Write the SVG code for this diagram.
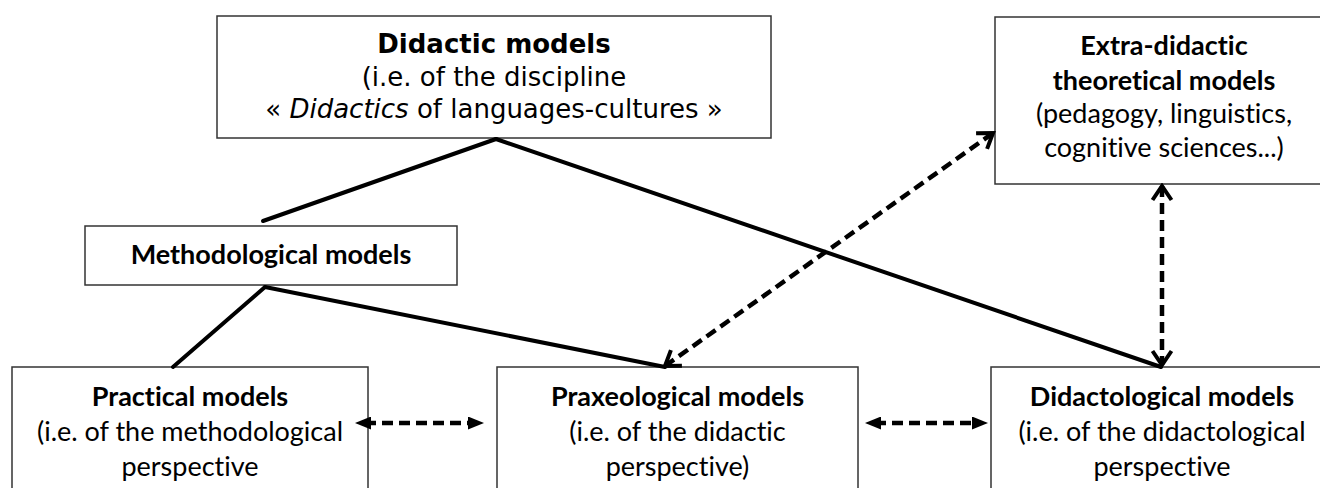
<svg xmlns="http://www.w3.org/2000/svg" width="1320" height="488" viewBox="0 0 1320 488">
  <style>
    .box { fill: #ffffff; stroke: #333333; stroke-width: 1.5; }
    .t { font-family: Lato, "Liberation Sans", sans-serif; font-size: 27px; fill: #000000; text-anchor: middle; font-variant-ligatures: none; }
    .tv { font-family: "DejaVu Sans", Verdana, sans-serif; font-size: 26px; fill: #000000; text-anchor: middle; }
    .b { font-weight: bold; }
    .solid { stroke: #000000; stroke-width: 4; fill: none; stroke-linecap: round; }
    .dash { stroke: #000000; stroke-width: 4.5; fill: none; stroke-dasharray: 11 6; }
  </style>
  <defs>
    <!-- filled triangular head, tip sits 10 units past the line end -->
    <marker id="tri" viewBox="0 0 16 13" refX="6" refY="6.5" markerWidth="16" markerHeight="13" markerUnits="userSpaceOnUse" orient="auto-start-reverse">
      <path d="M0,0 L16,6.5 L0,13 z" fill="#000000"/>
    </marker>
    <!-- open V head, tip at the line end -->
    <marker id="vee" viewBox="0 0 20 24" refX="17" refY="12" markerWidth="20" markerHeight="24" markerUnits="userSpaceOnUse" orient="auto-start-reverse">
      <path d="M3,2.5 L17,12 L3,21.5" fill="none" stroke="#000000" stroke-width="4" stroke-linejoin="miter"/>
    </marker>
  </defs>

  <rect width="1320" height="488" fill="#ffffff"/>

  <g id="didactic">
    <rect class="box" x="217" y="16" width="554" height="122"/>
    <text class="tv b" x="494" y="53">Didactic models</text>
    <text class="tv" x="494" y="86">(i.e. of the discipline</text>
    <text class="tv" x="494" y="118">« <tspan font-style="italic">Didactics</tspan> of languages-cultures »</text>
  </g>

  <g id="extra-didactic">
    <rect class="box" x="995" y="17" width="340" height="167"/>
    <text class="t b" x="1164" y="55">Extra-didactic</text>
    <text class="t b" x="1164" y="90">theoretical models</text>
    <text class="t" x="1164" y="123">(pedagogy, linguistics,</text>
    <text class="t" x="1164" y="157">cognitive sciences...)</text>
  </g>

  <g id="methodological">
    <rect class="box" x="85" y="226" width="372" height="59"/>
    <text class="t b" x="271" y="264">Methodological models</text>
  </g>

  <g id="practical">
    <rect class="box" x="12" y="367" width="356" height="140"/>
    <text class="t b" x="190" y="406">Practical models</text>
    <text class="t" x="190" y="441">(i.e. of the methodological</text>
    <text class="t" x="190" y="476">perspective</text>
  </g>

  <g id="praxeological">
    <rect class="box" x="497" y="367" width="361" height="140"/>
    <text class="t b" x="677.5" y="406">Praxeological models</text>
    <text class="t" x="677.5" y="441">(i.e. of the didactic</text>
    <text class="t" x="677.5" y="476">perspective)</text>
  </g>

  <g id="didactological">
    <rect class="box" x="991" y="367" width="344" height="140"/>
    <text class="t b" x="1162" y="406">Didactological models</text>
    <text class="t" x="1162" y="441">(i.e. of the didactological</text>
    <text class="t" x="1162" y="476">perspective</text>
  </g>

  <g id="connectors">
    <!-- hierarchy links -->
    <line class="solid" x1="496" y1="139" x2="263" y2="221"/>
    <line class="solid" x1="496" y1="139" x2="1161" y2="367"/>
    <line class="solid" x1="265" y1="287" x2="173" y2="367"/>
    <line class="solid" x1="265" y1="287" x2="665" y2="367"/>
    <!-- two-way exchanges -->
    <line class="dash" x1="665" y1="366" x2="993" y2="133" marker-start="url(#vee)" marker-end="url(#vee)"/>
    <line class="dash" x1="1162" y1="186" x2="1162" y2="365" marker-start="url(#vee)" marker-end="url(#vee)"/>
    <line class="dash" x1="365" y1="423" x2="474" y2="423" marker-start="url(#tri)" marker-end="url(#tri)"/>
    <line class="dash" x1="875" y1="423" x2="978" y2="423" marker-start="url(#tri)" marker-end="url(#tri)"/>
  </g>
</svg>
